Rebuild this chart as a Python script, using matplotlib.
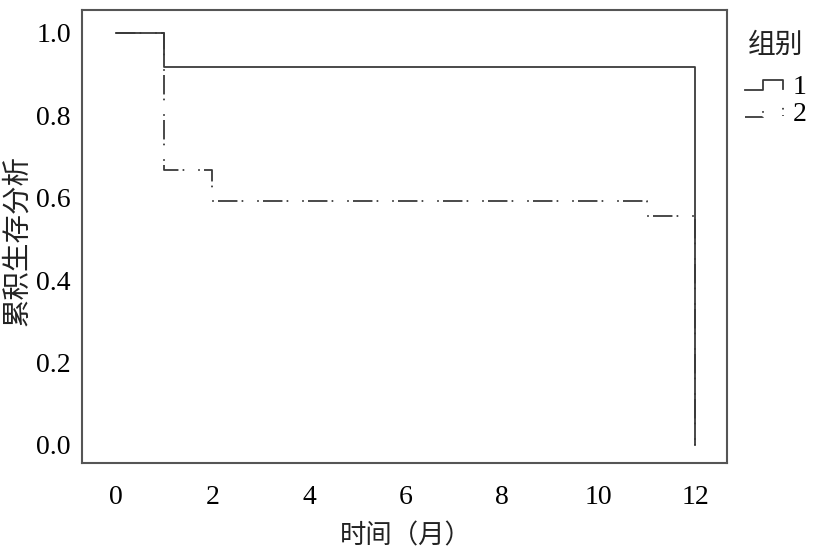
import matplotlib
matplotlib.use("Agg")
import matplotlib.pyplot as plt
from matplotlib.lines import Line2D
from matplotlib.legend_handler import HandlerBase

# Kaplan-Meier style step data (time in months, cumulative survival)
group1_time = [0, 1, 12, 12]
group1_surv = [1.0, 0.917, 0.917, 0.0]
group2_time = [0, 1, 2, 11, 12, 12]
group2_surv = [1.0, 0.667, 0.593, 0.556, 0.556, 0.0]
group_labels = ["1", "2"]
x_ticks = [0, 2, 4, 6, 8, 10, 12]
y_ticks = [0.0, 0.2, 0.4, 0.6, 0.8, 1.0]

LINE = "#3a3a3a"
FRAME = "#555555"
DASHDOT = (0, (14, 3, 1.2, 10, 1.2, 3))
SERIF = ["Liberation Serif", "DejaVu Serif"]
CJK = ["Noto Sans CJK SC", "DejaVu Sans"]

plt.rcParams["lines.scale_dashes"] = False


class StepHandler(HandlerBase):
    """Little step-shaped legend key, like the KM plot legends in SPSS."""
    def create_artists(self, legend, orig_handle, xdescent, ydescent,
                       width, height, fontsize, trans):
        x0, x1 = -xdescent, -xdescent + width
        xm = x0 + width * 0.47
        ylo = -ydescent + height * 0.22
        yhi = -ydescent + height * 0.72
        xs = [x0, xm, xm, x1, x1]
        ys = [ylo, ylo, yhi, yhi, -ydescent + height * 0.27]
        ln = Line2D(xs, ys, color=orig_handle.get_color(),
                    linewidth=orig_handle.get_linewidth())
        if orig_handle.get_label() == "2":
            ln.set_dashes((13, 3, 1.2, 18, 1.2, 4))
        ln.set_transform(trans)
        return [ln]


fig = plt.figure(figsize=(8.36, 5.51), dpi=100)
ax = fig.add_axes([0.098, 0.160, 0.772, 0.822])

h1, = ax.step(group1_time, group1_surv, where="post", color=LINE, lw=1.3,
              label=group_labels[0])
h2, = ax.step(group2_time, group2_surv, where="post", color=LINE, lw=1.3,
              linestyle=DASHDOT, label=group_labels[1])

ax.set_xlim(-0.7, 12.66)
ax.set_ylim(-0.044, 1.056)
ax.set_xticks(x_ticks)
ax.set_yticks(y_ticks)
ax.set_xticklabels([str(t) for t in x_ticks], family=SERIF, fontsize=20)
ax.set_yticklabels([f"{t:.1f}" for t in y_ticks], family=SERIF, fontsize=20)
ax.tick_params(axis="x", length=0, pad=16)
ax.tick_params(axis="y", length=0, pad=8)
for s in ax.spines.values():
    s.set_color(FRAME)
    s.set_linewidth(1.5)

# axis titles placed by hand, the figure is tight on the edges
fig.text(406 / 836, 1 - 536 / 551, "时间（月）", family=CJK, fontsize=19,
         color="#222222", ha="center", va="center")
fig.text(17 / 836, 1 - 240 / 551, "累积生存分析", family=CJK, fontsize=20.5,
         color="#222222", ha="center", va="center", rotation=90)

fig.text(776 / 836, 1 - 45 / 551, "组别", family=CJK, fontsize=20,
         color="#222222", ha="center", va="center")
leg = fig.legend(handles=[h1, h2], loc="upper left",
                 bbox_to_anchor=(745 / 836, 1 - 75 / 551),
                 bbox_transform=fig.transFigure, frameon=False,
                 handler_map={Line2D: StepHandler()},
                 prop={"family": SERIF, "size": 20},
                 handlelength=1.37, handletextpad=0.36, labelspacing=0.05,
                 borderpad=0, borderaxespad=0)

fig.savefig("out.png", dpi=100)
plt.close(fig)
